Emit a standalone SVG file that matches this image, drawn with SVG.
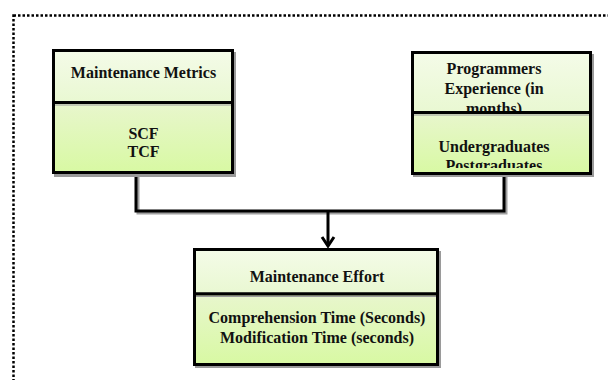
<svg xmlns="http://www.w3.org/2000/svg" width="608" height="380" viewBox="0 0 608 380">
<style>
.t{font-family:"Liberation Serif","Times New Roman",serif;font-weight:bold;font-size:16px;fill:#111;text-anchor:middle}
.bx{stroke:#000;stroke-width:3}
.sh{fill:#9a9a9a}
.ln{fill:none;stroke:#000;stroke-width:3}
.lnsh{fill:none;stroke:#a0a0a0;stroke-width:3}
</style>
<defs>
<linearGradient id="gTop" x1="0" y1="0" x2="0" y2="1"><stop offset="0" stop-color="#F4FBE8"/><stop offset="1" stop-color="#E9F8D2"/></linearGradient>
<linearGradient id="gBot" x1="0" y1="0" x2="0" y2="1"><stop offset="0" stop-color="#E8F6CD"/><stop offset="1" stop-color="#D8F9A3"/></linearGradient>
<clipPath id="cR"><rect x="414" y="114" width="175" height="54"/></clipPath>
<clipPath id="cRt"><rect x="414" y="54" width="175" height="57"/></clipPath>
</defs>
<rect x="13.5" y="15.5" width="620" height="400" fill="none" stroke="#000" stroke-width="2.5" stroke-dasharray="2.5 2"/>
<g id="connectors">
<path class="lnsh" d="M138 176 V213 H506 V177"/>
<path class="ln" d="M136 174 V211 H504 V175"/>
<path class="ln" d="M328 211 V246"/>
<path class="ln" d="M322 237 L328 246 L334 237"/>
</g>
<g id="maintenance-metrics">
<rect class="sh" x="54" y="52" width="182" height="125"/>
<rect class="bx" x="53.5" y="50.5" width="179" height="52" fill="url(#gTop)"/>
<rect class="bx" x="53.5" y="102.5" width="179" height="70" fill="url(#gBot)"/>
<line x1="55" y1="105" x2="231" y2="105" stroke="#9a9a9a" stroke-width="1"/>
<text class="t" x="143.5" y="78">Maintenance Metrics</text>
<text class="t" x="143.5" y="139">SCF</text>
<text class="t" x="143.5" y="157">TCF</text>
</g>
<g id="programmers-experience">
<rect class="sh" x="413" y="54" width="181" height="123"/>
<rect class="bx" x="412.5" y="52.5" width="178" height="60" fill="url(#gTop)"/>
<g clip-path="url(#cRt)">
<text class="t" x="494" y="74">Programmers</text>
<text class="t" x="494" y="94">Experience (in</text>
<text class="t" x="494" y="114">months)</text>
</g>
<rect class="bx" x="412.5" y="112.5" width="178" height="61" fill="url(#gBot)"/>
<line x1="414" y1="115" x2="589" y2="115" stroke="#9a9a9a" stroke-width="1"/>
<g clip-path="url(#cR)">
<text class="t" x="494" y="152">Undergraduates</text>
<text class="t" x="494" y="171">Postgraduates</text>
</g>
</g>
<g id="maintenance-effort">
<rect class="sh" x="195" y="251" width="246" height="117"/>
<rect class="bx" x="194.5" y="249.5" width="243" height="44.5" fill="url(#gTop)"/>
<rect class="bx" x="194.5" y="294" width="243" height="70.5" fill="url(#gBot)"/>
<line x1="196" y1="296.5" x2="436" y2="296.5" stroke="#9a9a9a" stroke-width="1"/>
<text class="t" x="317" y="282">Maintenance Effort</text>
<text class="t" x="317" y="323">Comprehension Time (Seconds)</text>
<text class="t" x="317" y="343">Modification Time (seconds)</text>
</g>
</svg>
